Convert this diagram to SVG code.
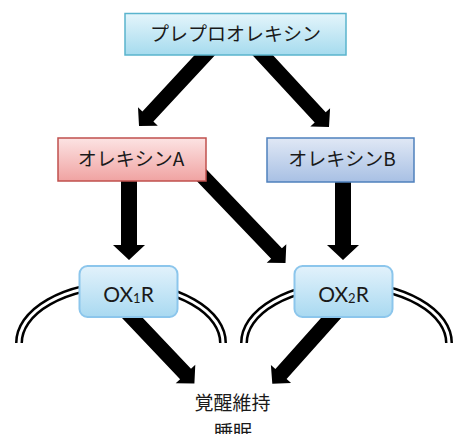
<svg xmlns="http://www.w3.org/2000/svg" width="458" height="434" viewBox="0 0 458 434">
  <defs>
    <linearGradient id="gTop" x1="0" y1="0" x2="0" y2="1">
      <stop offset="0" stop-color="#e4f5fb"/>
      <stop offset="1" stop-color="#a6dbee"/>
    </linearGradient>
    <linearGradient id="gRed" x1="0" y1="0" x2="0" y2="1">
      <stop offset="0" stop-color="#fce3e3"/>
      <stop offset="1" stop-color="#f0a3a2"/>
    </linearGradient>
    <linearGradient id="gBlue" x1="0" y1="0" x2="0" y2="1">
      <stop offset="0" stop-color="#e0e8f5"/>
      <stop offset="1" stop-color="#a8c0e4"/>
    </linearGradient>
    <linearGradient id="gRec" x1="0" y1="0" x2="0" y2="1">
      <stop offset="0" stop-color="#e2f2fb"/>
      <stop offset="1" stop-color="#a9d9f1"/>
    </linearGradient>
  </defs>
  <style>
    .arrow { fill: #000; stroke: none; }
    .arcOuter { fill: none; stroke: #000; stroke-width: 8; }
    .arcInner { fill: none; stroke: #fff; stroke-width: 3; }
    .jp { font-family: "Noto Sans CJK JP", "Noto Sans", sans-serif; font-size: 19px; fill: #1a1a1a; text-anchor: middle; }
    .rec { font-family: "Lato", "Noto Sans", sans-serif; font-size: 21px; fill: #1a1a1a; text-anchor: middle; }
  </style>

  <g id="connectors">
    <polygon class="arrow" points="204.9,44.0 142.4,111.4 138.0,107.3 139,126 157.8,125.7 153.4,121.6 215.9,54.2"/>
    <polygon class="arrow" points="251.6,54.2 314.7,122.5 310.3,126.6 329,127 330.1,108.3 325.7,112.3 262.6,44.0"/>
    <polygon class="arrow" points="121,178 137,178 137,245 145,245 129,260 113,245 121,245"/>
    <polygon class="arrow" points="335,178 351,178 351,245 359,245 343,260 327,245 335,245"/>
    <polygon class="arrow" points="192.4,176.4 271.1,258.7 266.7,262.8 285.5,262.9 286.3,244.2 281.9,248.3 203.2,166.0"/>
    <polygon class="arrow" points="120.6,316.4 180.1,379.2 175.7,383.3 194.4,383.4 195.3,364.7 191.0,368.8 131.5,306.0"/>
    <polygon class="arrow" points="331.7,306.0 275.4,369.0 270.9,365.0 272.3,383.7 291.1,383.0 286.6,379.0 342.9,316.0"/>
    <path class="arcOuter" d="M19,343 A102,58 0 0 1 223,343"/>
    <path class="arcInner" d="M19,343 A102,58 0 0 1 223,343"/>
    <path class="arcOuter" d="M244,343 A102.5,58 0 0 1 449,343"/>
    <path class="arcInner" d="M244,343 A102.5,58 0 0 1 449,343"/>
  </g>

  <g id="preproorexin">
    <rect x="125" y="13.5" width="221" height="41.5" fill="url(#gTop)" stroke="#5ab4cd" stroke-width="1.5"/>
    <text class="jp" x="235.5" y="40.5">プレプロオレキシン</text>
  </g>

  <g id="orexinA">
    <rect x="58" y="138" width="148" height="43" fill="url(#gRed)" stroke="#c0504d" stroke-width="1.5"/>
    <text class="jp" x="131" y="166">オレキシンA</text>
  </g>

  <g id="orexinB">
    <rect x="267" y="138" width="147" height="44" fill="url(#gBlue)" stroke="#4f81bd" stroke-width="1.5"/>
    <text class="jp" x="342" y="166">オレキシンB</text>
  </g>

  <g id="ox1r">
    <rect x="79.5" y="266" width="98" height="51" rx="8" ry="8" fill="url(#gRec)" stroke="#8cc6ec" stroke-width="2"/>
    <text class="rec" x="128.5" y="302">OX<tspan font-size="13" dy="1">1</tspan><tspan dy="-1">R</tspan></text>
  </g>

  <g id="ox2r">
    <rect x="294.5" y="266" width="98" height="51" rx="8" ry="8" fill="url(#gRec)" stroke="#8cc6ec" stroke-width="2"/>
    <text class="rec" x="343.5" y="302">OX<tspan font-size="13" dy="1">2</tspan><tspan dy="-1">R</tspan></text>
  </g>

  <g id="outcome">
    <text class="jp" x="232.5" y="410">覚醒維持</text>
    <text class="jp" x="233" y="439">睡眠</text>
  </g>
</svg>
